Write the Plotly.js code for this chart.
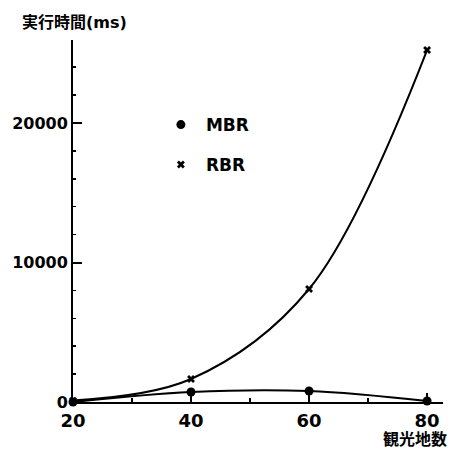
<!DOCTYPE html>
<html>
<head>
<meta charset="utf-8">
<script src="https://cdn.plot.ly/plotly-3.0.1.min.js"></script>
<style>html,body{margin:0;padding:0;background:#fff;}#chart{width:453px;height:450px;}</style>
</head>
<body>
<div id="chart"></div>
<script>
const sites = [20, 40, 60, 80];
const mbrTime = [0, 720, 790, 70];
const rbrTime = [100, 1650, 8100, 25230];
const xTicks = [20, 40, 60, 80];
const yTicks = [0, 10000, 20000];
const yTitle = '実行時間(ms)';
const xTitle = '観光地数';

const F = '"DejaVu Sans", "Noto Sans CJK JP", sans-serif';

const traces = [
  {x: sites, y: mbrTime, mode: 'lines+markers', line: {shape: 'spline', color: '#000', width: 2},
   marker: {symbol: 'circle', size: 9, color: '#000'}, showlegend: false, cliponaxis: false},
  {x: sites, y: rbrTime, mode: 'lines+markers', line: {shape: 'spline', color: '#000', width: 2},
   marker: {symbol: 'x', size: 7, color: '#000'}, showlegend: false, cliponaxis: false},
  {x: [null], y: [null], name: 'MBR', mode: 'markers', marker: {symbol: 'circle', size: 9, color: '#000'}, legend: 'legend'},
  {x: [null], y: [null], name: 'RBR', mode: 'markers', marker: {symbol: 'x', size: 7, color: '#000'}, legend: 'legend2'}
];

const legendBase = {xref: 'paper', yref: 'paper', xanchor: 'left', yanchor: 'middle', itemwidth: 40,
  bgcolor: 'rgba(0,0,0,0)', font: {family: F, size: 17, color: '#000', weight: 'bold'}};

const layout = {
  width: 453, height: 450,
  margin: {l: 73, r: 10, t: 40, b: 48, autoexpand: false},
  paper_bgcolor: '#fff', plot_bgcolor: '#fff',
  title: {text: yTitle, x: 22/453, xref: 'container', xanchor: 'left', y: 1 - 22/450, yref: 'container', yanchor: 'middle',
    font: {family: F, size: 16, color: '#000', weight: 'bold'}},
  xaxis: {range: [20, 82.7], tickvals: xTicks, ticktext: xTicks.map(String), ticks: 'inside', ticklen: 9, tickwidth: 2,
    tickcolor: '#000', showline: true, linecolor: '#000', linewidth: 2, showgrid: false, zeroline: false,
    ticklabelstandoff: 1,
    tickfont: {family: F, size: 18, color: '#000', weight: 'bold'},
    minor: {dtick: 10, ticks: 'inside', ticklen: 4, tickwidth: 2, tickcolor: '#000'}},
  yaxis: {range: [0, 25950], tickvals: yTicks, ticktext: yTicks.map(String), ticks: 'inside', ticklen: 9, tickwidth: 2,
    tickcolor: '#000', showline: true, linecolor: '#000', linewidth: 2, showgrid: false, zeroline: false,
    tickfont: {family: F, size: 16, color: '#000', weight: 'bold'},
    minor: {dtick: 2000, ticks: 'inside', ticklen: 3, tickwidth: 1.5, tickcolor: '#000'}},
  legend: Object.assign({}, legendBase, {x: 0.224, y: 0.765}),
  legend2: Object.assign({}, legendBase, {x: 0.224, y: 0.655}),
  annotations: [
    {text: xTitle, xref: 'paper', yref: 'paper', x: 1, y: 0, xanchor: 'right', yanchor: 'middle', yshift: -37, xshift: 6,
     showarrow: false, font: {family: F, size: 16, color: '#000', weight: 'bold'}}
  ]
};

Plotly.newPlot('chart', traces, layout, {displayModeBar: false, staticPlot: true});
</script>
</body>
</html>
